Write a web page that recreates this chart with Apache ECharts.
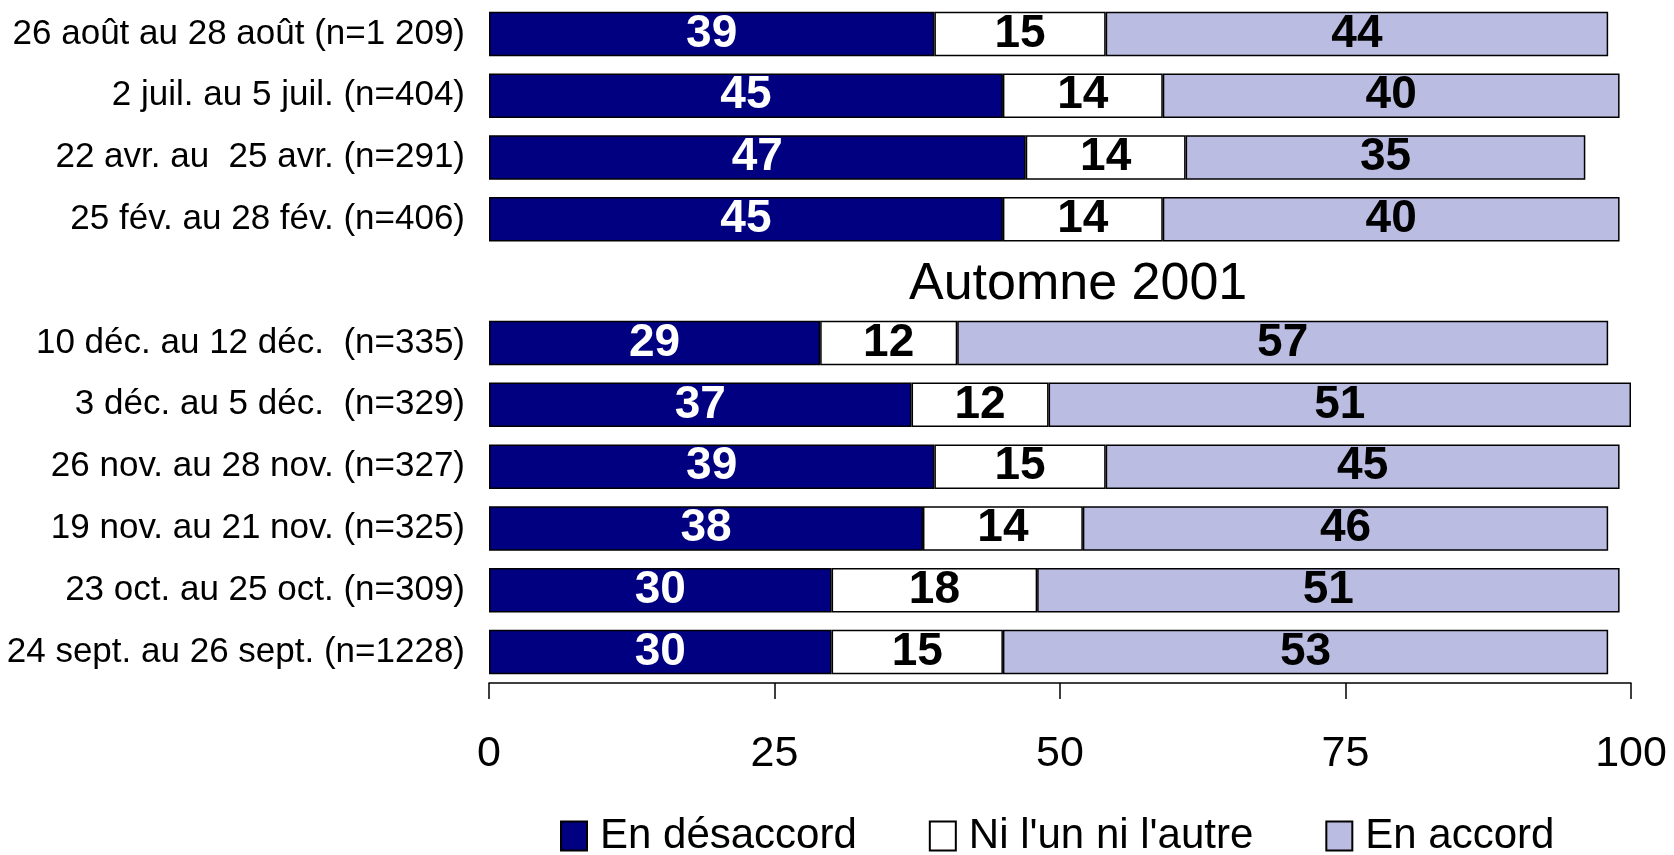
<!DOCTYPE html>
<html>
<head>
    <meta charset="utf-8" />
    <title></title>
    <script type="text/javascript" src="https://cdn.jsdelivr.net/npm/echarts@6/dist/echarts.min.js"></script>
    <style>
        html, body { margin: 0; padding: 0; background: #fff; }
        #con1 { width: 1674px; height: 855px; }
    </style>
</head>
<body>
    <div id="con1"></div>
    <script type="text/javascript">
        // categories, top to bottom; the empty one is the gap row with "Automne 2001"
        var categories = [
            "26 août au 28 août (n=1 209)",
            "2 juil. au 5 juil. (n=404)",
            "22 avr. au  25 avr. (n=291)",
            "25 fév. au 28 fév. (n=406)",
            "",
            "10 déc. au 12 déc.  (n=335)",
            "3 déc. au 5 déc.  (n=329)",
            "26 nov. au 28 nov. (n=327)",
            "19 nov. au 21 nov. (n=325)",
            "23 oct. au 25 oct. (n=309)",
            "24 sept. au 26 sept. (n=1228)"
        ];
        var desaccord = [39, 45, 47, 45, null, 29, 37, 39, 38, 30, 30];
        var niLunNiLautre = [15, 14, 14, 14, null, 12, 12, 15, 14, 18, 15];
        var accord = [44, 40, 35, 40, null, 57, 51, 45, 46, 51, 53];
        var seriesNames = ["En désaccord", "Ni l'un ni l'autre", "En accord"];
        var xTicks = [0, 25, 50, 75, 100];

        var font = "Liberation Sans, Arial, sans-serif";
        var myChart1 = echarts.init(document.getElementById("con1"));

        function barSeries(name, data, fill, labelColor) {
            return {
                name: name,
                type: 'bar',
                stack: 'total',
                data: data,
                barCategoryGap: '28%',
                itemStyle: {
                    color: fill,
                    borderColor: '#000',
                    borderWidth: 1.5
                },
                label: {
                    show: true,
                    position: 'inside',
                    color: labelColor,
                    fontFamily: font,
                    fontWeight: 'bold',
                    fontSize: 46
                },
                emphasis: { disabled: true }
            };
        }

        var option1 = {
            backgroundColor: '#fff',
            animation: false,
            grid: {
                left: 489,
                right: 43,
                top: 3,
                bottom: 172
            },
            legend: {
                data: seriesNames,
                left: 555,
                top: 810,
                itemWidth: 26,
                itemHeight: 29,
                itemGap: 72,
                icon: 'rect',
                textStyle: {
                    fontFamily: font,
                    fontSize: 42,
                    color: '#000',
                    padding: [0, 0, 0, 8]
                }
            },
            graphic: [{
                type: 'text',
                left: 909,
                top: 259,
                style: {
                    text: 'Automne 2001',
                    font: '52px ' + font,
                    fill: '#000'
                }
            }],
            xAxis: {
                type: 'value',
                min: xTicks[0],
                max: xTicks[xTicks.length - 1],
                interval: 25,
                splitLine: { show: false },
                axisLine: { show: true, lineStyle: { color: '#000', width: 1.5 } },
                axisTick: { show: true, inside: false, length: 16, lineStyle: { color: '#000', width: 1.5 } },
                axisLabel: {
                    margin: 50,
                    color: '#000',
                    fontFamily: font,
                    fontSize: 43
                }
            },
            yAxis: {
                type: 'category',
                inverse: true,
                data: categories,
                axisLine: { show: false },
                axisTick: { show: false },
                axisLabel: {
                    margin: 24,
                    color: '#000',
                    fontFamily: font,
                    fontSize: 35
                }
            },
            series: [
                barSeries(seriesNames[0], desaccord, '#000080', '#fff'),
                barSeries(seriesNames[1], niLunNiLautre, '#ffffff', '#000'),
                barSeries(seriesNames[2], accord, '#bbbce2', '#000')
            ]
        };
        option1 && myChart1.setOption(option1);
    </script>
</body>
</html>
